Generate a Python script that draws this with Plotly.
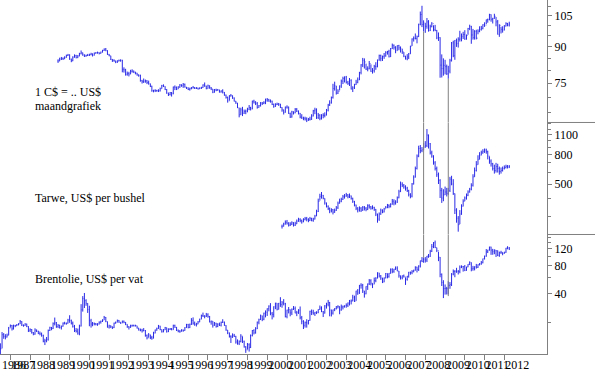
import pandas as pd
import plotly.graph_objects as go

FONT = "Liberation Serif, Times New Roman, serif"
BLUE = "#2a2ae6"
GREY = "#808080"

# ---------------- data ----------------
# Canadian dollar in US cents, monthly, from June 1989
cad_start = "1989-06-01"
cad_high = [
    84.5, 85.2, 85.5, 85.3, 85.8, 86.5, 86.8,
    86.6, 84.8, 85.8, 86.6, 86.4, 86.3, 87.3, 88.3, 87.4, 86.6, 86.5, 86.8,
    86.9, 87.3, 87.0, 87.4, 87.6, 87.8, 87.5, 87.8, 88.6, 89.2, 89.4, 88.4,
    86.8, 86.0, 84.6, 84.5, 83.9, 84.1, 84.4, 84.5, 84.3, 81.2, 80.6, 79.5,
    79.4, 80.2, 80.4, 79.9, 79.4, 79.0, 78.4, 78.3, 76.3, 76.8, 76.4, 76.2,
    76.0, 74.9, 74.1, 72.6, 72.8, 72.6, 72.8, 73.4, 74.4, 74.6, 73.9, 72.9,
    71.6, 71.8, 71.8, 73.8, 74.2, 73.8, 73.9, 74.7, 74.6, 75.1, 74.9, 73.6,
    73.5, 73.4, 73.6, 74.0, 73.6, 73.6, 73.4, 73.5, 73.7, 74.6, 75.3, 74.1,
    74.5, 74.2, 73.6, 72.9, 72.9, 73.0, 72.9, 72.6, 72.4, 72.8, 71.8, 70.9,
    70.2, 70.7, 71.1, 70.6, 69.9, 68.7, 68.0, 66.4, 66.4, 66.7, 65.8, 65.8,
    66.4, 67.3, 66.7, 68.8, 69.1, 68.6, 68.3, 67.3, 68.3, 68.3, 68.6, 69.5,
    69.7, 69.4, 69.2, 68.8, 67.8, 67.9, 68.1, 68.0, 67.7, 66.6, 65.8, 66.8,
    67.2, 66.8, 64.8, 65.4, 65.2, 66.3, 66.3, 65.5, 64.7, 64.3, 63.5, 63.5,
    63.3, 63.1, 63.5, 64.3, 65.7, 66.4, 66.2, 64.7, 64.3, 64.3, 64.6, 64.9,
    66.0, 67.7, 68.9, 70.2, 74.8, 75.6, 74.0, 72.8, 74.2, 76.4, 77.5, 77.6,
    77.8, 75.9, 77.0, 76.5, 73.9, 74.8, 76.3, 77.2, 79.4, 82.5, 85.1, 84.9,
    82.7, 81.6, 83.8, 82.4, 80.9, 82.2, 83.3, 84.4, 86.5, 86.5, 86.1, 87.2,
    88.0, 88.1, 88.6, 89.4, 91.4, 91.0, 90.2, 90.6, 90.8, 90.1, 89.0, 87.6,
    86.0, 86.7, 87.2, 90.4, 93.8, 94.7, 96.1, 95.1, 100.9, 107.2, 110.3, 102.6,
    101.2, 103.8, 102.7, 100.4, 101.7, 100.1, 100.3, 97.8, 96.6, 94.3, 86.6, 84.9,
    84.3, 82.3, 81.8, 84.7, 92.1, 92.7, 93.0, 93.7, 94.3, 97.4, 96.1, 96.9,
    97.7, 95.6, 98.8, 100.4, 99.8, 98.3, 97.7, 97.9, 98.1, 99.6, 99.8, 100.6,
    101.6, 103.0, 103.5, 106.0, 105.7, 103.9, 106.0, 104.3, 102.8, 100.6, 99.4, 99.6,
    100.2, 101.6, 101.3, 101.9,
]
cad_low = [
    83.0, 83.7, 84.2, 84.2, 84.6, 85.2, 85.9,
    84.3, 83.3, 83.7, 85.2, 84.9, 85.0, 85.8, 86.6, 86.0, 85.5, 85.6, 85.9,
    85.9, 86.2, 85.7, 86.1, 86.9, 86.9, 86.6, 86.9, 87.4, 88.1, 88.0, 86.4,
    85.8, 84.2, 83.4, 83.5, 82.9, 83.0, 83.6, 83.5, 79.2, 79.1, 77.9, 77.9,
    77.6, 78.5, 79.1, 78.9, 78.4, 77.9, 77.5, 75.6, 74.9, 75.1, 75.2, 74.7,
    74.5, 73.6, 71.9, 71.7, 71.8, 71.9, 71.8, 72.0, 73.0, 73.6, 72.5, 71.2,
    70.4, 70.6, 70.2, 71.0, 72.5, 72.5, 72.9, 73.3, 73.7, 73.3, 73.4, 72.9,
    72.5, 72.3, 72.8, 73.1, 72.9, 72.9, 72.7, 72.9, 72.9, 73.3, 73.7, 72.8,
    73.0, 73.0, 72.5, 71.4, 71.6, 72.1, 72.3, 71.6, 71.6, 71.3, 70.5, 69.5,
    68.1, 68.8, 70.2, 69.4, 68.5, 67.7, 66.3, 63.3, 64.1, 63.7, 64.4, 64.3,
    64.9, 65.6, 65.5, 65.9, 67.8, 67.3, 66.1, 66.4, 66.8, 67.3, 67.6, 67.6,
    68.4, 68.4, 68.1, 67.3, 66.4, 66.7, 67.3, 67.0, 66.3, 65.1, 64.2, 64.8,
    66.1, 64.4, 63.1, 63.2, 64.2, 64.6, 65.0, 64.2, 63.0, 62.8, 62.4, 62.3,
    61.8, 62.2, 62.3, 62.5, 63.6, 64.3, 62.8, 62.8, 62.4, 62.6, 63.0, 63.3,
    63.9, 65.2, 67.0, 67.8, 69.5, 72.3, 70.9, 71.1, 72.4, 73.3, 74.7, 75.3,
    74.9, 74.4, 74.0, 72.7, 71.8, 72.9, 74.4, 75.0, 76.2, 78.4, 81.3, 80.7,
    80.1, 79.6, 80.4, 79.4, 78.7, 79.1, 80.2, 81.2, 83.9, 83.7, 83.8, 84.7,
    85.6, 86.5, 85.3, 85.5, 89.0, 88.7, 87.1, 88.2, 88.4, 87.4, 86.8, 85.4,
    84.4, 84.1, 84.6, 86.8, 90.3, 92.3, 93.3, 91.5, 94.4, 100.1, 99.2, 97.0,
    96.4, 98.4, 97.0, 97.3, 99.1, 97.1, 97.2, 93.4, 92.6, 77.1, 77.2, 77.9,
    78.4, 78.2, 76.7, 78.8, 83.6, 85.4, 84.3, 89.9, 89.6, 92.3, 92.4, 93.5,
    93.1, 93.2, 95.5, 97.7, 91.3, 93.2, 93.2, 93.3, 95.7, 96.7, 97.5, 98.1,
    99.3, 100.6, 101.4, 102.6, 101.9, 101.0, 103.4, 99.6, 95.6, 94.5, 96.1, 96.5,
    97.6, 99.5, 99.6, 99.5,
]
cad_close = [
    83.8, 84.6, 84.9, 84.7, 85.3, 86.1, 86.4,
    84.6, 83.9, 85.4, 86.1, 85.2, 85.9, 86.9, 87.3, 86.4, 85.9, 86.1, 86.2,
    86.5, 86.8, 86.2, 87.1, 87.3, 87.4, 87.0, 87.6, 88.3, 88.9, 88.2, 86.6,
    86.0, 84.5, 84.1, 83.9, 83.4, 83.8, 84.0, 84.1, 80.4, 80.2, 78.4, 78.7,
    78.5, 79.6, 79.7, 79.3, 78.9, 78.2, 77.9, 76.0, 75.6, 75.8, 75.9, 75.3,
    74.8, 73.9, 72.3, 72.4, 72.3, 72.3, 72.2, 73.0, 74.1, 73.9, 72.7, 71.4,
    70.9, 71.6, 71.2, 73.6, 73.5, 72.8, 73.6, 74.4, 74.1, 74.6, 73.6, 73.3,
    72.7, 73.0, 73.3, 73.4, 73.1, 73.2, 72.9, 73.2, 73.4, 74.4, 74.0, 73.0,
    74.1, 73.3, 72.9, 71.7, 72.6, 72.4, 72.6, 71.8, 72.2, 71.7, 70.7, 69.9,
    68.7, 70.4, 70.5, 69.7, 68.6, 68.0, 66.4, 64.1, 65.7, 64.6, 65.2, 65.3,
    65.9, 66.5, 66.0, 68.6, 68.3, 67.9, 66.5, 67.1, 68.0, 67.9, 68.1, 69.0,
    69.1, 68.6, 68.6, 67.5, 66.8, 67.4, 67.6, 67.6, 66.5, 65.7, 64.9, 66.6,
    66.6, 64.5, 63.4, 65.1, 64.7, 65.9, 65.3, 64.6, 63.4, 63.1, 63.0, 62.8,
    62.4, 62.7, 62.7, 63.7, 65.4, 65.7, 63.2, 64.0, 63.0, 64.0, 63.9, 64.0,
    65.6, 67.3, 68.0, 69.9, 73.1, 74.1, 71.4, 72.1, 74.0, 75.8, 76.8, 77.4,
    75.4, 74.9, 76.1, 72.9, 73.3, 74.5, 75.4, 76.3, 79.1, 82.2, 84.1, 83.4,
    80.5, 80.6, 82.7, 79.5, 79.9, 81.6, 81.5, 84.2, 86.1, 84.9, 85.7, 86.0,
    87.4, 87.9, 85.6, 89.1, 90.6, 89.7, 88.2, 90.5, 89.5, 89.1, 87.7, 85.8,
    84.7, 85.5, 86.8, 90.2, 93.5, 93.8, 93.7, 94.6, 100.6, 105.6, 100.5, 101.3,
    99.6, 101.8, 97.4, 99.4, 100.9, 97.9, 97.6, 94.0, 94.2, 82.1, 80.7, 82.0,
    81.5, 78.6, 79.7, 83.9, 91.7, 86.0, 92.9, 91.4, 93.4, 93.5, 94.7, 95.6,
    93.5, 95.2, 98.5, 99.6, 95.4, 94.1, 97.1, 93.9, 97.2, 98.0, 98.6, 100.4,
    100.1, 102.9, 103.0, 105.6, 103.1, 103.6, 104.7, 101.8, 95.7, 100.1, 98.1, 97.7,
    99.7, 101.0, 100.2, 100.8,
]

# Wheat in US cents per bushel, monthly, from October 2000
wheat_start = "2000-10-01"
wheat_high = [
    262, 270, 280,
    282, 272, 272, 276, 272, 274, 284, 292, 290, 284, 290, 296,
    296, 290, 296, 292, 292, 306, 332, 396, 428, 440, 420, 398,
    372, 356, 344, 340, 336, 338, 352, 378, 396, 402, 420, 426,
    434, 426, 430, 416, 402, 382, 360, 346, 350, 346, 352, 352,
    346, 362, 362, 352, 356, 348, 336, 312, 318, 338, 334, 342,
    352, 364, 362, 368, 394, 392, 386, 410, 456, 520, 514, 500,
    490, 478, 456, 432, 508, 574, 660, 800, 920, 930, 900, 960,
    990, 1200, 1100, 960, 850, 790, 720, 660, 600, 540, 470, 460,
    480, 470, 470, 560, 570, 540, 430, 340, 300, 330, 362, 392,
    410, 430, 452, 470, 506, 584, 650, 720, 790, 830, 850, 870,
    880, 878, 850, 776, 740, 700, 680, 700, 690, 660, 650, 660,
    672, 680, 676, 676,
]
wheat_low = [
    246, 254, 262,
    262, 254, 256, 260, 254, 256, 264, 274, 272, 266, 272, 280,
    276, 272, 278, 276, 274, 284, 300, 320, 384, 396, 392, 360,
    344, 330, 314, 318, 308, 316, 326, 336, 366, 374, 388, 396,
    408, 398, 400, 390, 370, 350, 330, 318, 322, 320, 326, 328,
    324, 330, 338, 332, 334, 326, 300, 270, 278, 306, 314, 318,
    338, 340, 340, 344, 360, 356, 360, 370, 398, 440, 476, 464,
    450, 440, 410, 398, 404, 496, 554, 630, 766, 816, 830, 856,
    890, 900, 880, 800, 760, 680, 620, 560, 500, 400, 370, 380,
    420, 410, 420, 440, 490, 420, 310, 270, 234, 264, 306, 350,
    380, 390, 412, 436, 452, 480, 560, 610, 680, 740, 790, 810,
    820, 810, 740, 690, 660, 620, 590, 600, 600, 580, 590, 610,
    630, 640, 640, 644,
]
wheat_close = [
    255, 264, 272,
    268, 260, 264, 270, 259, 265, 276, 284, 279, 274, 284, 289,
    284, 279, 289, 280, 286, 300, 322, 380, 410, 418, 398, 370,
    350, 338, 326, 332, 319, 328, 342, 368, 380, 392, 408, 412,
    420, 408, 414, 398, 379, 358, 340, 331, 340, 330, 345, 340,
    334, 354, 348, 340, 344, 334, 310, 286, 310, 330, 320, 336,
    344, 356, 350, 362, 380, 370, 375, 402, 442, 498, 490, 478,
    468, 450, 422, 412, 500, 558, 640, 780, 880, 850, 862, 900,
    920, 1090, 950, 820, 780, 700, 640, 580, 530, 450, 400, 420,
    440, 430, 450, 540, 500, 430, 330, 290, 262, 310, 350, 380,
    400, 418, 440, 460, 490, 560, 620, 680, 740, 790, 820, 840,
    860, 840, 780, 720, 690, 640, 620, 660, 640, 610, 620, 640,
    650, 662, 655, 660,
]

# Brent crude in US$ per barrel, monthly, from July 1986
brent_start = "1986-07-01"
brent_high = [
    12.0, 15.8, 15.4, 15.0, 15.2, 17.9,
    19.0, 18.8, 18.9, 18.8, 19.2, 19.6, 21.2, 20.6, 19.0, 19.6, 19.4, 18.2,
    17.3, 17.0, 15.8, 17.3, 16.8, 16.3, 16.0, 15.6, 14.8, 13.4, 14.0, 16.8,
    18.0, 17.9, 20.0, 22.5, 20.2, 19.2, 18.9, 18.5, 20.0, 20.3, 19.9, 21.8,
    23.8, 21.4, 20.4, 18.8, 17.4, 17.2, 18.9, 31.2, 38.0, 41.0, 35.2, 32.0,
    30.0, 21.8, 20.2, 19.9, 19.7, 19.6, 20.5, 20.9, 21.6, 23.4, 22.8, 20.4,
    18.9, 18.6, 18.1, 19.9, 20.4, 21.4, 21.2, 20.1, 20.9, 20.9, 20.2, 19.1,
    18.2, 18.9, 18.9, 18.9, 18.9, 18.4, 17.5, 17.2, 17.1, 17.4, 16.6, 14.9,
    15.4, 14.8, 14.4, 15.9, 16.8, 17.6, 18.8, 18.4, 16.8, 17.0, 17.9, 17.6,
    17.3, 17.4, 17.4, 18.9, 18.9, 17.9, 16.8, 16.6, 16.9, 16.8, 17.8, 19.3,
    19.3, 19.4, 22.2, 22.6, 20.4, 19.8, 20.7, 21.9, 24.2, 25.4, 23.8, 25.2,
    25.0, 23.4, 20.9, 20.6, 20.2, 19.8, 19.6, 19.9, 20.4, 21.6, 20.4, 18.7,
    16.6, 15.6, 14.6, 15.3, 15.1, 14.4, 13.2, 12.9, 15.0, 14.2, 12.8, 11.2,
    12.1, 12.0, 14.9, 16.6, 16.9, 17.8, 20.4, 21.9, 24.2, 23.6, 25.4, 26.8,
    28.2, 30.3, 32.0, 25.8, 29.6, 32.3, 32.0, 32.1, 37.0, 33.7, 35.3, 32.2,
    27.3, 29.1, 27.4, 28.1, 29.8, 29.5, 26.5, 27.6, 29.5, 23.4, 21.1, 20.4,
    21.6, 21.2, 26.6, 27.4, 27.2, 25.8, 26.2, 27.5, 30.2, 29.6, 26.4, 30.5,
    32.3, 34.6, 32.9, 27.3, 27.3, 28.3, 29.8, 30.4, 29.6, 30.9, 30.2, 30.3,
    31.8, 32.5, 34.6, 35.0, 39.2, 38.4, 43.3, 45.1, 49.8, 52.0, 51.2, 43.1,
    48.3, 51.6, 57.7, 57.4, 52.0, 59.7, 60.3, 67.9, 67.0, 63.6, 59.3, 59.9,
    66.8, 66.0, 66.6, 74.8, 75.0, 73.9, 78.4, 78.6, 70.2, 62.7, 62.9, 64.3,
    60.0, 62.2, 68.6, 69.1, 71.7, 72.4, 78.6, 77.8, 80.6, 90.4, 98.5, 96.6,
    98.5, 101.3, 106.2, 117.7, 135.5, 142.1, 147.5, 124.1, 112.5, 98.6, 66.1, 56.0,
    50.5, 47.6, 54.6, 53.5, 66.6, 72.8, 71.5, 75.8, 71.9, 80.3, 80.5, 79.2,
    81.2, 77.7, 82.9, 88.8, 86.4, 79.5, 78.6, 83.4, 82.4, 85.0, 89.6, 94.8,
    102.0, 119.8, 117.4, 127.0, 127.0, 120.4, 119.0, 116.8, 115.9, 112.6, 114.8, 110.7,
    112.1, 123.4, 128.4, 126.0,
]
brent_low = [
    8.8, 10.6, 13.4, 13.2, 13.8, 14.6,
    17.6, 16.4, 16.8, 17.8, 18.3, 18.6, 19.2, 18.3, 18.0, 18.4, 17.8, 15.8,
    15.8, 15.2, 14.6, 14.8, 15.8, 15.0, 14.6, 14.1, 12.3, 11.5, 12.3, 12.8,
    16.2, 16.5, 17.0, 18.6, 17.5, 17.4, 17.2, 16.8, 18.0, 19.0, 18.9, 19.4,
    19.8, 19.0, 17.6, 15.8, 15.6, 14.8, 14.6, 18.1, 26.0, 28.4, 30.0, 25.2,
    18.2, 17.6, 18.2, 18.6, 18.6, 18.4, 19.0, 19.4, 20.2, 21.2, 20.1, 17.6,
    17.2, 17.4, 17.0, 17.4, 19.4, 20.0, 19.8, 19.3, 19.7, 19.6, 18.7, 17.5,
    16.8, 17.5, 18.0, 18.1, 18.1, 17.2, 16.4, 16.1, 15.6, 16.1, 14.1, 13.2,
    13.8, 13.3, 13.1, 13.5, 15.3, 16.3, 17.1, 16.5, 15.6, 15.7, 16.6, 15.6,
    15.8, 16.6, 16.5, 16.7, 17.5, 16.2, 15.7, 15.5, 16.0, 15.9, 16.3, 17.5,
    17.3, 17.4, 18.8, 18.9, 18.4, 18.1, 19.1, 20.1, 21.6, 22.8, 22.1, 22.8,
    22.4, 20.0, 18.9, 17.6, 18.4, 17.6, 17.8, 18.3, 18.1, 19.7, 18.4, 16.3,
    15.0, 13.8, 12.1, 13.7, 14.0, 11.9, 11.6, 11.5, 12.3, 12.1, 10.8, 9.5,
    10.3, 9.8, 10.7, 14.2, 14.9, 15.2, 17.0, 19.1, 21.2, 20.6, 21.1, 22.6,
    23.4, 26.2, 23.8, 21.5, 22.6, 27.6, 26.8, 27.4, 29.2, 28.6, 30.3, 22.6,
    22.1, 24.9, 23.2, 23.9, 27.1, 25.0, 23.3, 24.6, 21.5, 19.1, 17.0, 17.6,
    17.6, 19.0, 20.8, 23.9, 24.2, 23.4, 24.5, 25.0, 27.1, 25.7, 22.8, 24.8,
    28.0, 29.6, 23.2, 23.1, 24.2, 26.3, 27.4, 28.1, 24.4, 26.6, 27.4, 28.7,
    28.6, 29.1, 30.2, 31.0, 33.5, 32.9, 33.8, 39.2, 40.1, 45.6, 41.0, 36.6,
    39.7, 44.2, 49.8, 49.4, 46.2, 50.8, 53.3, 58.6, 59.8, 56.5, 52.2, 53.3,
    58.6, 58.6, 59.6, 65.6, 66.4, 67.1, 72.0, 69.8, 59.6, 56.9, 57.2, 59.8,
    49.9, 55.4, 59.6, 64.0, 64.8, 67.9, 70.8, 67.7, 70.2, 76.4, 87.1, 85.7,
    86.1, 87.2, 96.8, 98.9, 111.4, 122.6, 122.8, 111.3, 89.2, 60.2, 48.6, 36.2,
    39.4, 39.5, 39.6, 45.4, 48.6, 63.1, 60.2, 67.1, 64.4, 66.4, 75.2, 69.1,
    69.9, 70.5, 76.8, 81.0, 69.6, 70.6, 71.2, 74.4, 75.5, 80.1, 81.7, 84.5,
    92.8, 99.2, 108.7, 115.1, 104.0, 104.2, 105.7, 98.7, 100.8, 99.1, 106.4, 103.0,
    106.9, 109.2, 119.1, 117.3,
]
brent_close = [
    10.5, 14.8, 14.2, 14.0, 14.6, 17.4,
    18.5, 17.1, 18.6, 18.4, 18.9, 19.2, 20.4, 18.7, 18.5, 19.2, 18.1, 16.5,
    16.8, 15.6, 15.0, 16.6, 16.1, 15.3, 15.1, 14.6, 12.6, 12.8, 13.2, 16.4,
    17.6, 17.2, 19.4, 19.8, 18.1, 18.6, 17.6, 18.2, 19.6, 19.5, 19.6, 21.2,
    21.0, 19.6, 18.1, 16.4, 16.1, 15.4, 18.3, 27.2, 35.8, 34.0, 31.8, 27.4,
    20.8, 19.2, 19.5, 19.3, 19.1, 19.2, 20.1, 20.5, 21.0, 22.6, 20.4, 17.8,
    18.4, 18.0, 17.6, 19.6, 20.0, 21.0, 20.1, 19.6, 20.6, 20.0, 19.1, 18.0,
    17.8, 18.4, 18.6, 18.4, 18.5, 17.4, 16.6, 16.6, 16.3, 16.4, 14.5, 13.7,
    14.8, 13.8, 13.6, 15.4, 16.6, 17.2, 18.3, 16.8, 15.9, 16.6, 17.6, 15.9,
    16.9, 17.1, 16.7, 18.6, 17.7, 16.5, 16.1, 16.0, 16.6, 16.4, 17.6, 19.0,
    17.6, 19.1, 21.0, 19.6, 19.0, 19.2, 20.2, 21.6, 23.6, 23.4, 23.3, 24.0,
    23.1, 20.2, 20.6, 18.6, 19.6, 18.1, 19.1, 18.6, 20.0, 20.1, 18.6, 16.6,
    15.5, 14.2, 14.0, 14.6, 14.2, 12.4, 12.0, 12.5, 14.3, 12.6, 11.0, 10.2,
    11.6, 10.8, 14.5, 16.4, 15.5, 17.1, 20.1, 21.4, 23.5, 21.6, 25.0, 25.6,
    27.9, 29.8, 25.0, 24.3, 29.3, 32.0, 27.5, 32.0, 30.9, 32.2, 31.6, 23.0,
    27.0, 27.4, 25.2, 27.5, 28.0, 25.1, 25.5, 27.0, 22.4, 20.5, 18.6, 20.0,
    19.7, 21.0, 26.2, 25.6, 24.6, 25.6, 25.6, 27.4, 28.4, 26.0, 25.1, 29.9,
    31.2, 32.6, 27.1, 25.1, 27.2, 28.0, 29.2, 29.5, 27.1, 29.1, 29.3, 30.1,
    30.4, 32.1, 33.6, 33.7, 37.0, 33.5, 43.0, 41.0, 49.6, 49.6, 43.2, 40.2,
    48.2, 51.3, 55.2, 52.0, 50.6, 55.5, 58.7, 67.1, 62.1, 59.3, 53.5, 59.2,
    66.0, 61.0, 66.4, 72.5, 69.7, 73.4, 75.1, 70.1, 62.5, 59.5, 62.5, 60.8,
    57.1, 61.7, 68.1, 67.4, 69.0, 71.4, 77.1, 73.0, 79.2, 90.3, 88.6, 93.6,
    91.8, 101.0, 100.3, 113.5, 127.4, 139.8, 124.1, 115.5, 98.2, 64.6, 53.0, 45.6,
    45.9, 45.6, 49.2, 50.3, 65.0, 69.3, 69.8, 69.0, 69.1, 77.0, 78.5, 77.9,
    71.2, 77.6, 82.7, 86.2, 74.0, 75.0, 78.0, 76.7, 82.3, 83.4, 85.9, 94.8,
    101.0, 111.8, 117.4, 125.9, 116.7, 112.5, 116.7, 114.9, 102.8, 109.6, 110.5, 107.4,
    110.9, 122.6, 122.9, 119.5,
]

# axis ticks
year_ticks = list(range(1987, 2013))
cad_major = [75, 90, 105]
cad_minor = [65, 70, 80, 85, 95, 100, 110]
wheat_major = [500, 800, 1100]
wheat_minor = [300, 400, 600, 700, 900, 1000, 1200, 1300]
brent_major = [40, 80, 120]
brent_minor = [20, 60, 100, 140, 160]

# marker lines: date, C$ value where it starts, Brent value where it ends
mark_dates = ["2007-12-01", "2009-03-01"]
mark_cad = [97.0, 76.7]
mark_brent = [96.0, 38.0]

# labels
panel_titles = [["1 C$ = .. US$", "maandgrafiek"], ["Tarwe, US$ per bushel"], ["Brentolie, US$ per vat"]]

# ---------------- layout parameters ----------------
W, H = 595, 372
ML, MR, MT, MB = 0, 48, 0, 18
dom_top = [0.654, 1.0]
dom_mid = [0.3376, 0.654]
dom_bot = [0.0, 0.3376]
cad_range = [1.7903, 2.0551]
wheat_range = [2.3498, 3.1244]
brent_range = [0.9658, 2.2330]
x_range = ["1986-06-24", "2014-02-28"]


def ohlc(start, high, low, close, yaxis):
    dates = pd.date_range(start, periods=len(close), freq="MS")
    opens = [close[0]] + close[:-1]
    return go.Ohlc(
        x=dates, open=opens, high=high, low=low, close=close,
        xaxis="x", yaxis=yaxis,
        increasing=dict(line=dict(color=BLUE, width=1)),
        decreasing=dict(line=dict(color=BLUE, width=1)),
        hoverinfo="skip", showlegend=False,
    )


fig = go.Figure()
fig.add_trace(ohlc(cad_start, cad_high, cad_low, cad_close, "y"))
fig.add_trace(ohlc(wheat_start, wheat_high, wheat_low, wheat_close, "y2"))
fig.add_trace(ohlc(brent_start, brent_high, brent_low, brent_close, "y3"))

tickfont = dict(family=FONT, size=12, color="black")


def yaxis(domain, rng, major, minor):
    return dict(
        type="log", domain=domain, range=rng, anchor="x", side="right",
        showline=True, linecolor=GREY, linewidth=1,
        showgrid=False, zeroline=False,
        tickmode="array", tickvals=major, ticktext=[str(v) for v in major],
        ticks="outside", ticklen=4, tickcolor=GREY, tickwidth=1,
        minor=dict(tickmode="array", tickvals=minor, ticks="outside",
                   ticklen=3, tickcolor=GREY, tickwidth=1, showgrid=False),
        tickfont=tickfont, fixedrange=True,
    )


fig.update_layout(
    width=W, height=H,
    margin=dict(l=ML, r=MR, t=MT, b=MB, pad=0),
    paper_bgcolor="white", plot_bgcolor="white",
    showlegend=False,
    xaxis=dict(
        type="date", domain=[0, 1], range=x_range, anchor="y3",
        rangeslider=dict(visible=False),
        showline=True, linecolor=GREY, linewidth=1, showgrid=False, zeroline=False,
        tickmode="array",
        tickvals=[f"{y}-01-01" for y in year_ticks],
        ticktext=[str(y) for y in year_ticks],
        ticks="outside", ticklen=5, tickcolor=GREY, tickwidth=1,
        ticklabelposition="outside right", tickangle=0,
        tickfont=tickfont, fixedrange=True,
    ),
    yaxis=yaxis(dom_top, cad_range, cad_major, cad_minor),
    yaxis2=yaxis(dom_mid, wheat_range, wheat_major, wheat_minor),
    yaxis3=yaxis(dom_bot, brent_range, brent_major, brent_minor),
)

shapes = []
# separators between the panels, right of the value axis
for yb in (dom_top[0], dom_mid[0]):
    shapes.append(dict(type="line", xref="paper", yref="paper", x0=1, x1=1.2,
                       y0=yb, y1=yb, line=dict(color=GREY, width=1)))
# vertical marker lines through the three panels
for d, vc, vb in zip(mark_dates, mark_cad, mark_brent):
    shapes.append(dict(type="line", xref="x", yref="y", x0=d, x1=d,
                       y0=vc, y1=10 ** cad_range[0], line=dict(color=GREY, width=1)))
    shapes.append(dict(type="line", xref="x", yref="y2 domain", x0=d, x1=d,
                       y0=0, y1=1, line=dict(color=GREY, width=1)))
    shapes.append(dict(type="line", xref="x", yref="y3", x0=d, x1=d,
                       y0=10 ** brent_range[1], y1=vb, line=dict(color=GREY, width=1)))
fig.update_layout(shapes=shapes)

plot_h = H - MT - MB
ann = []
title_rows = [(panel_titles[0][0], 92), (panel_titles[0][1], 106),
              (panel_titles[1][0], 198), (panel_titles[2][0], 279)]
for txt, yc in title_rows:
    ann.append(dict(text=txt, xref="paper", yref="paper", x=33 / (W - ML - MR),
                    y=1 - (yc - MT) / plot_h, xanchor="left", yanchor="middle",
                    showarrow=False, font=tickfont))
# first (partly cut) year label at the left edge
ann.append(dict(text="1986", xref="paper", yref="paper", x=0, y=-11 / plot_h,
                xanchor="left", yanchor="middle", showarrow=False, font=tickfont))
fig.update_layout(annotations=ann)

fig.write_html("out.html", config={"displayModeBar": False},
               post_script="document.body.style.margin='0';")
